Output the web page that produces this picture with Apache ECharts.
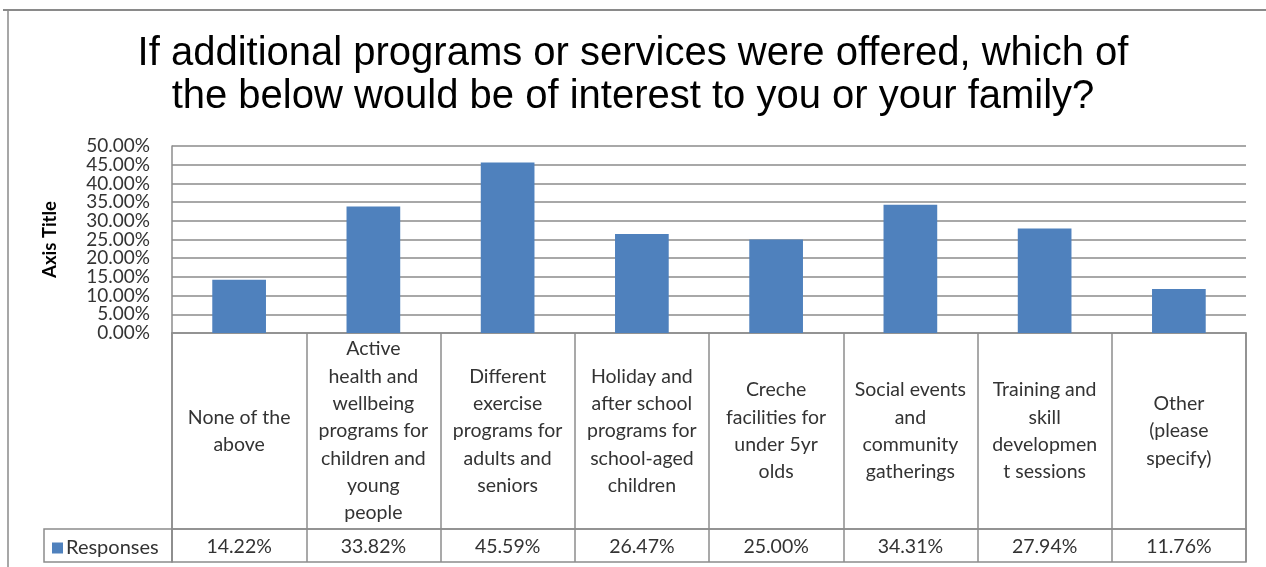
<!DOCTYPE html>
<html>
<head>
<meta charset="utf-8">
<title>Programs of interest</title>
<script src="https://cdn.jsdelivr.net/npm/echarts@6/dist/echarts.min.js"></script>
<style>
  html, body { margin: 0; padding: 0; background: #fff; }
  #chart { width: 1266px; height: 567px; }
</style>
</head>
<body>
<div id="chart"></div>
<script>
// Survey question and answer options
const titleText = 'If additional programs or services were offered, which of\nthe below would be of interest to you or your family?';
const categories = [
  'None of the\nabove',
  'Active\nhealth and\nwellbeing\nprograms for\nchildren and\nyoung\npeople',
  'Different\nexercise\nprograms for\nadults and\nseniors',
  'Holiday and\nafter school\nprograms for\nschool-aged\nchildren',
  'Creche\nfacilities for\nunder 5yr\nolds',
  'Social events\nand\ncommunity\ngatherings',
  'Training and\nskill\ndevelopmen\nt sessions',
  'Other\n(please\nspecify)'
];
// Share of respondents (%)
const responses = [14.22, 33.82, 45.59, 26.47, 25.00, 34.31, 27.94, 11.76];
const seriesName = 'Responses';
const axisTitle = 'Axis Title';
// Value axis ticks (%)
const yMin = 0, yMax = 50, yStep = 5;
const yTicks = [0, 5, 10, 15, 20, 25, 30, 35, 40, 45, 50];

// tick labels are split over two stacked axes so the tightly packed
// labels are all kept (no automatic overlap hiding)
const yTicksEven = yTicks.filter((v, i) => i % 2 === 0);
const yTicksOdd = yTicks.filter((v, i) => i % 2 === 1);

const bodyFont = 'Lato, "Open Sans", sans-serif';
const textColor = '#333';
const tableLine = '#8c8c8c';

const plotLeft = 172, plotRight = 20;

const yLabelStyle = {
  margin: 22,
  fontFamily: bodyFont,
  fontSize: 19,
  color: textColor,
  formatter: v => v.toFixed(2) + '%'
};

const chart = echarts.init(document.getElementById('chart'), null, { renderer: 'canvas' });

chart.setOption({
  animation: false,
  backgroundColor: '#fff',
  title: {
    text: titleText,
    left: 'center',
    top: 27,
    textStyle: {
      fontFamily: '"Liberation Sans", Arial, sans-serif',
      fontSize: 40,
      fontWeight: 'normal',
      lineHeight: 43,
      color: '#000'
    }
  },
  legend: {
    data: [seriesName],
    left: 52,
    top: 538,
    padding: 0,
    icon: 'rect',
    itemWidth: 11,
    itemHeight: 11,
    itemGap: 5,
    textStyle: { fontFamily: bodyFont, fontSize: 20, color: textColor, padding: [0, 0, 0, -2] }
  },
  grid: [
    // plot area
    { left: plotLeft, right: plotRight, top: 146, bottom: 234, containLabel: false },
    // data table: category header row
    { left: plotLeft, right: plotRight, top: 333, bottom: 38, show: true, borderColor: tableLine, borderWidth: 1.5, backgroundColor: 'transparent' },
    // data table: value row
    { left: plotLeft, right: plotRight, top: 529, bottom: 5, show: true, borderColor: tableLine, borderWidth: 1.5, backgroundColor: 'transparent' }
  ],
  xAxis: [
    {
      type: 'category',
      gridIndex: 0,
      data: categories,
      axisLine: { show: true, lineStyle: { color: tableLine, width: 1.5 } },
      axisTick: { show: false },
      axisLabel: {
        interval: 0,
        margin: 98,
        verticalAlign: 'middle',
        align: 'center',
        lineHeight: 27.3,
        fontFamily: bodyFont,
        fontSize: 19.5,
        color: textColor
      }
    },
    {
      type: 'category',
      gridIndex: 1,
      data: categories,
      axisLine: { show: false },
      axisTick: { show: false },
      axisLabel: { show: false },
      splitLine: { show: true, interval: 0, lineStyle: { color: tableLine, width: 1.5 } }
    },
    {
      type: 'category',
      gridIndex: 2,
      data: categories,
      position: 'top',
      axisLine: { show: false },
      axisTick: { show: false },
      splitLine: { show: true, interval: 0, lineStyle: { color: tableLine, width: 1.5 } },
      axisLabel: {
        interval: 0,
        margin: -18,
        verticalAlign: 'middle',
        fontFamily: bodyFont,
        fontSize: 19.5,
        color: textColor,
        formatter: (v, i) => responses[i].toFixed(2) + '%'
      }
    }
  ],
  yAxis: [
    {
      type: 'value',
      gridIndex: 0,
      min: yMin,
      max: yMax,
      interval: yStep,
      name: axisTitle,
      nameLocation: 'middle',
      nameGap: 112,
      nameRotate: 90,
      nameTextStyle: { fontFamily: bodyFont, fontSize: 18.5, fontWeight: 'bold', color: '#000' },
      axisLine: { show: true, lineStyle: { color: tableLine, width: 1.5 } },
      axisTick: { show: false },
      axisLabel: Object.assign({ customValues: yTicksEven }, yLabelStyle),
      splitLine: { show: true, lineStyle: { color: '#a8a8a8', width: 2 } }
    },
    {
      type: 'value',
      gridIndex: 0,
      position: 'left',
      min: yMin,
      max: yMax,
      interval: yStep,
      axisLine: { show: false },
      axisTick: { show: false },
      splitLine: { show: false },
      axisLabel: Object.assign({ customValues: yTicksOdd }, yLabelStyle)
    },
    { type: 'value', gridIndex: 1, show: false },
    { type: 'value', gridIndex: 2, show: false }
  ],
  series: [
    {
      name: seriesName,
      type: 'bar',
      xAxisIndex: 0,
      yAxisIndex: 0,
      data: responses,
      barWidth: '40%',
      itemStyle: { color: '#4f81bd' }
    }
  ],
  graphic: [
    // outer chart frame (top and left edges)
    { type: 'line', shape: { x1: 3, y1: 10, x2: 1266, y2: 10 }, style: { stroke: '#8a8a8a', lineWidth: 2 } },
    { type: 'line', shape: { x1: 8, y1: 10, x2: 8, y2: 567 }, style: { stroke: '#8a8a8a', lineWidth: 1.5 } },
    // legend key cell of the data table
    { type: 'rect', shape: { x: 44, y: 529, width: plotLeft - 44, height: 33 }, style: { fill: 'none', stroke: tableLine, lineWidth: 1.5 } }
  ]
});
</script>
</body>
</html>
